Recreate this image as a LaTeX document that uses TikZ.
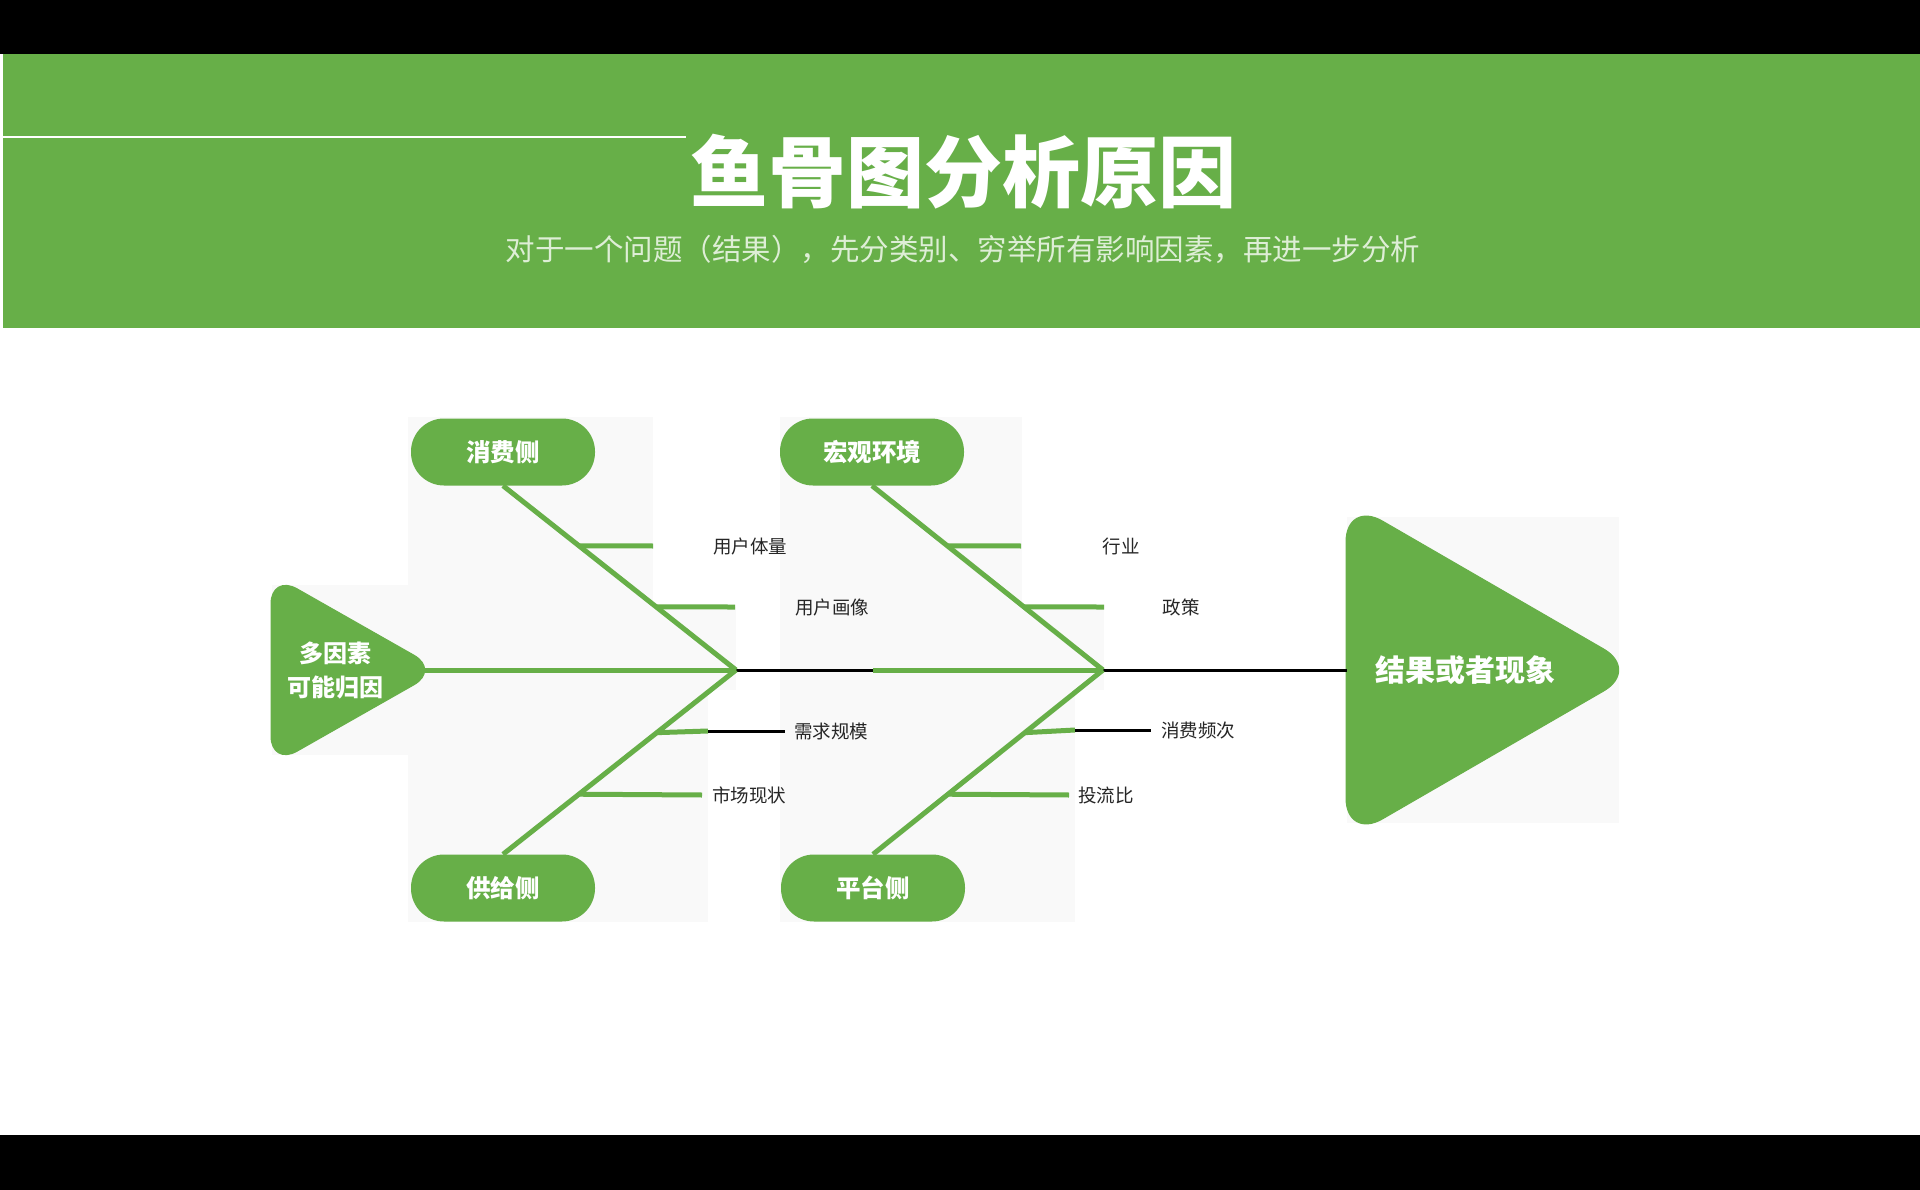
\documentclass[tikz,border=0pt]{standalone}
\usepackage{fontspec}
\newfontfamily\cjk{Noto Sans CJK SC}
\usetikzlibrary{calc}
\definecolor{fgreen}{RGB}{103,175,72}
\definecolor{pgrey}{RGB}{249,249,249}
\definecolor{subw}{RGB}{222,238,214}
\begin{document}
\begin{tikzpicture}[x=1pt,y=-1pt,
  pill/.style={fill=fgreen, rounded corners=33pt, minimum width=184pt, minimum height=67pt, inner sep=0pt, text=white, font=\cjk\bfseries\fontsize{24.5}{26}\selectfont},
  bone/.style={draw=fgreen, line width=5pt},
  blk/.style={draw=black, line width=3pt},
  lab/.style={font=\cjk\fontsize{18.5}{20}\selectfont, text=black!85, inner sep=0pt},
  tri/.style={fill=fgreen, draw=fgreen, line width=1pt}]
% page
\fill[white] (0,0) rectangle (1920,1190);
\useasboundingbox (0,0) rectangle (1920,1190);
\fill[black] (0,0) rectangle (1920,54);
\fill[black] (0,1135) rectangle (1920,1190);
% header band
\fill[fgreen] (3,54) rectangle (1920,328);
\draw[white, line width=1.5pt] (0,137) -- (686,137);
\node[font=\cjk\bfseries\fontsize{78}{80}\selectfont, text=white, inner sep=0pt] (title) at (963,172) {鱼骨图分析原因};
\node[font=\cjk\fontsize{29.5}{31}\selectfont, text=subw, inner sep=0pt] (subtitle) at (963,249) {对于一个问题（结果），先分类别、穷举所有影响因素，再进一步分析};
% faint backgrounds of pasted pictures
\fill[pgrey] (408,417) rectangle (653,922);
\fill[pgrey] (653,690) rectangle (708,922);
\fill[pgrey] (272,585) rectangle (408,755);
\fill[pgrey] (653,607) rectangle (736,690);
\fill[pgrey] (780,417) rectangle (1022,922);
\fill[pgrey] (1022,690) rectangle (1075,922);
\fill[pgrey] (1022,607) rectangle (1104,690);
\fill[pgrey] (1347,517) rectangle (1619,823);
% triangles
\fill[tri, rounded corners=30pt] (271,574) -- (271,766) -- (440,670) -- cycle;
\node[font=\cjk\bfseries\fontsize{24}{34}\selectfont, text=white, align=center, inner sep=0pt] (cause) at (335,670) {多因素\\可能归因};
\coordinate (causeTip) at (425,670);
\fill[tri, rounded corners=42pt] (1346,500) -- (1346,840) -- (1640,670) -- cycle;
\node[font=\cjk\bfseries\fontsize{30}{32}\selectfont, text=white, inner sep=0pt] (effect) at (1465,670) {结果或者现象};
\coordinate (effectTail) at (1347,670);
% category pills
\node[pill] (c1) at (503,452) {消费侧};
\node[pill] (c2) at (503,888) {供给侧};
\node[pill] (c3) at (872,452) {宏观环境};
\node[pill] (c4) at (873,888) {平台侧};
% junctions
\coordinate (J1) at (736,670);
\coordinate (J2) at (1103,670);
\coordinate (M1) at (873,670);
% spine
\draw[bone] (causeTip) -- (J1);
\draw[blk] (J1) -- (M1);
\draw[bone] (M1) -- (J2);
\draw[blk] (J2) -- (effectTail);
% main bones
\draw[bone] (c1.south) -- (J1);
\draw[bone] (c2.north) -- (J1);
\draw[bone] (c3.south) -- (J2);
\draw[bone] (c4.north) -- (J2);
% sub branches left
\coordinate (a1) at ($(c1.south)!0.326!(J1)$);
\coordinate (a1e) at (653,546);
\draw[bone] (a1) -- (a1e);
\node[lab] (l1) at (750,546) {用户体量};
\coordinate (a2) at ($(c1.south)!0.658!(J1)$);
\coordinate (a2e) at (735,607);
\draw[bone] (a2) -- (a2e);
\node[lab] (l2) at (832,607) {用户画像};
\coordinate (a3) at ($(c2.north)!0.66!(J1)$);
\coordinate (a3m) at (708,731);
\coordinate (a3e) at (785,731);
\draw[bone] (a3) -- (a3m);
\draw[blk] (a3m) -- (a3e);
\node[lab] (l3) at (831,731) {需求规模};
\coordinate (a4) at ($(c2.north)!0.326!(J1)$);
\coordinate (a4e) at (702,795);
\draw[bone] (a4) -- (a4e);
\node[lab] (l4) at (749,795) {市场现状};
% sub branches right
\coordinate (b1) at ($(c3.south)!0.326!(J2)$);
\coordinate (b1e) at (1021,546);
\draw[bone] (b1) -- (b1e);
\node[lab] (m1) at (1121,546) {行业};
\coordinate (b2) at ($(c3.south)!0.658!(J2)$);
\coordinate (b2e) at (1104,607);
\draw[bone] (b2) -- (b2e);
\node[lab] (m2) at (1181,607) {政策};
\coordinate (b3) at ($(c4.north)!0.66!(J2)$);
\coordinate (b3m) at (1075,730);
\coordinate (b3e) at (1151,730);
\draw[bone] (b3) -- (b3m);
\draw[blk] (b3m) -- (b3e);
\node[lab] (m3) at (1198,730) {消费频次};
\coordinate (b4) at ($(c4.north)!0.326!(J2)$);
\coordinate (b4e) at (1069,795);
\draw[bone] (b4) -- (b4e);
\node[lab] (m4) at (1106,795) {投流比};
\end{tikzpicture}
\end{document}
